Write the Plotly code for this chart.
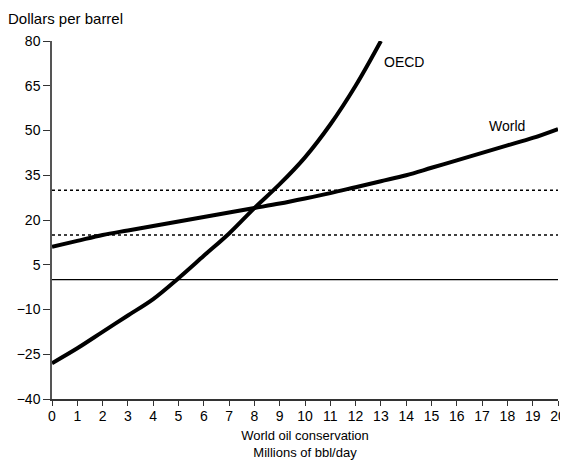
import plotly.graph_objects as go

conservation = list(range(0, 21))
world_price = [11, 13, 15, 16.5, 18, 19.5, 21, 22.5, 24, 25.5, 27.2, 29, 31, 33, 35, 37.5, 40, 42.5, 45, 47.5, 50.5]
oecd_x = list(range(0, 14))
oecd_price = [-28, -23, -17.5, -12, -6.5, 0.5, 8, 15.5, 24, 32, 41, 52, 65, 80]
ref_levels_dotted = [15, 30]
ref_level_solid = 0
y_ticks = [-40, -25, -10, 5, 20, 35, 50, 65, 80]
y_tick_labels = ["\u221240", "\u221225", "\u221210", "5", "20", "35", "50", "65", "80"]

font = "Liberation Sans, Arial, sans-serif"

fig = go.Figure()
for lv in ref_levels_dotted:
    fig.add_trace(go.Scatter(x=[0, 20], y=[lv, lv], mode="lines",
                             line=dict(color="black", width=1.5, dash="dot"),
                             showlegend=False, hoverinfo="skip"))
fig.add_trace(go.Scatter(x=[0, 20], y=[ref_level_solid, ref_level_solid], mode="lines",
                         line=dict(color="black", width=1.3), showlegend=False, hoverinfo="skip"))
fig.add_trace(go.Scatter(x=conservation, y=world_price, mode="lines",
                         line=dict(color="black", width=4, shape="spline"), name="World", showlegend=False))
fig.add_trace(go.Scatter(x=oecd_x, y=oecd_price, mode="lines",
                         line=dict(color="black", width=4, shape="spline"), name="OECD", showlegend=False))

fig.add_annotation(x=13.9, y=73, text="OECD", showarrow=False, xanchor="center",
                   font=dict(family=font, size=14, color="black"))
fig.add_annotation(x=18.0, y=51.5, text="World", showarrow=False, xanchor="center",
                   font=dict(family=font, size=14, color="black"))
fig.add_annotation(xref="paper", yref="paper", x=-0.09, y=1.092, xanchor="left", yanchor="top",
                   text="Dollars per barrel", showarrow=False,
                   font=dict(family=font, size=15, color="black"))

fig.update_layout(
    width=560, height=467,
    margin=dict(l=44, r=10, t=33, b=76),
    paper_bgcolor="white", plot_bgcolor="white",
    font=dict(family=font, size=14, color="black"),
    xaxis=dict(range=[0, 20], tickmode="linear", tick0=0, dtick=1, automargin=False,
               showgrid=False, zeroline=False, showline=True, linecolor="#333", linewidth=1.5,
               ticks="outside", ticklen=5, tickcolor="#333", ticklabelstandoff=-2,
               title=dict(text="World oil conservation<br>Millions of bbl/day",
                          font=dict(family=font, size=13), standoff=8)),
    yaxis=dict(range=[-40, 80], tickvals=y_ticks, ticktext=y_tick_labels, automargin=False,
               showgrid=False, zeroline=False, showline=True, linecolor="#555", linewidth=1.5,
               ticks="outside", ticklen=7, tickcolor="#333"),
)

fig.write_html("out.html")
